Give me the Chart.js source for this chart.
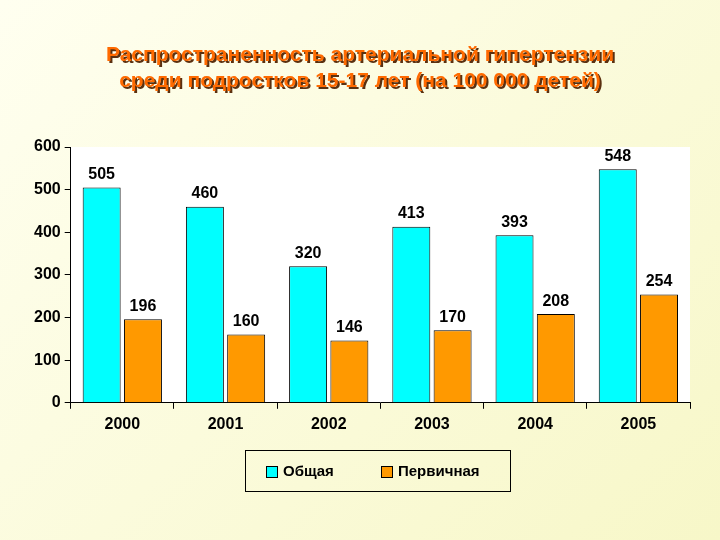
<!DOCTYPE html>
<html><head><meta charset="utf-8">
<script src="https://cdn.jsdelivr.net/npm/chart.js@4"></script>
<style>html,body{margin:0;padding:0;background:linear-gradient(135deg,#fffff0,#f7f7c8);}#w{width:720px;height:540px;}</style>
</head><body><div id="w"><canvas id="c" width="720" height="540"></canvas></div>
<script>
const categories=["2000","2001","2002","2003","2004","2005"];
const totalValues=[505,460,320,413,393,548];
const primaryValues=[196,160,146,170,208,254];
const seriesNames=["Общая","Первичная"];
const seriesColors=['#00ffff','#ff9900'];
const titleLines=["Распространенность артериальной гипертензии","среди подростков 15-17 лет (на 100 000 детей)"];
const yTicks=[0,100,200,300,400,500,600];

const deco={id:'deco',
 beforeDraw(ch){const {ctx,chartArea:a}=ch;ctx.save();ctx.fillStyle='#fff';ctx.fillRect(a.left,a.top,a.right-a.left,a.bottom-a.top);
  ctx.font='bold 21px "Liberation Sans", Arial';ctx.textAlign='center';ctx.textBaseline='middle';
  titleLines.forEach((t,i)=>{const y=55+i*26;ctx.fillStyle='#5a3010';ctx.fillText(t,362,y+2);ctx.fillStyle='#ff6a00';ctx.fillText(t,360,y);});
  ctx.restore();},
 afterDraw(ch){const {ctx}=ch;ctx.save();
  ctx.font='bold 16px "Liberation Sans", Arial';ctx.fillStyle='#000';ctx.textAlign='center';ctx.textBaseline='bottom';
  ch.data.datasets.forEach((d,di)=>{ch.getDatasetMeta(di).data.forEach((b,i)=>{ctx.fillText(String(d.data[i]),b.x,b.y-5);});});
  ctx.strokeStyle='#000';ctx.lineWidth=1;ctx.strokeRect(245.5,450.5,265,41);
  ctx.font='bold 15px "Liberation Sans", Arial';ctx.textAlign='left';ctx.textBaseline='middle';
  const xs=[266,381];
  seriesNames.forEach((n,i)=>{ctx.fillStyle=seriesColors[i];ctx.fillRect(xs[i],466,11,11);ctx.strokeRect(xs[i]+0.5,466.5,11,11);ctx.fillStyle='#000';ctx.fillText(n,xs[i]+17,472);});
  ctx.restore();}
};
new Chart(document.getElementById('c'),{type:'bar',
 data:{labels:categories,datasets:[
  {label:seriesNames[0],data:totalValues,backgroundColor:seriesColors[0],borderColor:'#000',borderWidth:1,categoryPercentage:0.8,barPercentage:0.92},
  {label:seriesNames[1],data:primaryValues,backgroundColor:seriesColors[1],borderColor:'#000',borderWidth:1,categoryPercentage:0.8,barPercentage:0.92}]},
 options:{responsive:false,animation:false,
  layout:{padding:{top:147,left:30,right:30,bottom:100}},
  plugins:{title:{display:false},tooltip:{enabled:false},legend:{display:false}},
  scales:{x:{grid:{display:true,drawOnChartArea:false,color:'#000',tickLength:6,offset:true},border:{color:'#000'},
    ticks:{color:'#000',font:{family:'"Liberation Sans", Arial',size:16,weight:'bold'},padding:6}},
   y:{min:0,max:600,afterBuildTicks(s){s.ticks=yTicks.map(v=>({value:v}));},
    grid:{display:true,drawOnChartArea:false,color:'#000',tickLength:6},border:{color:'#000'},
    ticks:{color:'#000',font:{family:'"Liberation Sans", Arial',size:16,weight:'bold'},padding:4}}}},
 plugins:[deco]});
</script></body></html>
